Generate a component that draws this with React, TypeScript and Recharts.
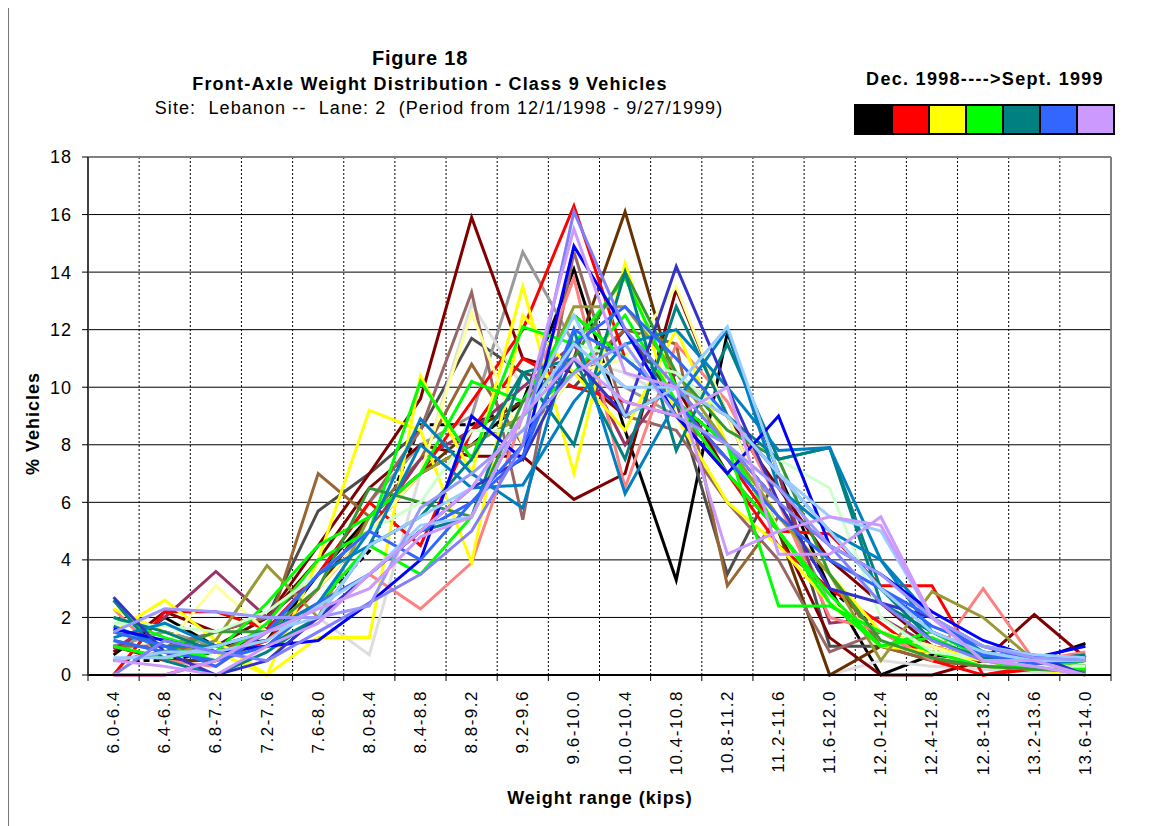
import React from "react";
import { LineChart, Line, XAxis, YAxis, CartesianGrid } from "recharts";

// ---------- data ----------
const CATEGORIES = [
  "6.0-6.4", "6.4-6.8", "6.8-7.2", "7.2-7.6", "7.6-8.0", "8.0-8.4", "8.4-8.8",
  "8.8-9.2", "9.2-9.6", "9.6-10.0", "10.0-10.4", "10.4-10.8", "10.8-11.2",
  "11.2-11.6", "11.6-12.0", "12.0-12.4", "12.4-12.8", "12.8-13.2", "13.2-13.6", "13.6-14.0",
];
const Y_TICKS = [0, 2, 4, 6, 8, 10, 12, 14, 16, 18];
const LEGEND_COLORS = ["#000000", "#FF0000", "#FFFF00", "#00FF00", "#008080", "#3366FF", "#CC99FF"];

const W01 = [0.7, 2.0, 1.0, 1.2, 3.5, 5.5, 7.0, 8.0, 9.5, 14.1, 8.5, 3.3, 11.9, 7.0, 3.0, 0.0, 0.7, 0.5, 0.5, 1.1];
const W02 = [0.5, 0.5, 0.8, 1.0, 2.5, 4.3, 8.7, 8.7, 9.5, 12.5, 11.0, 9.5, 8.0, 6.0, 3.0, 1.5, 0.8, 0.5, 0.3, 0.2];
const W03 = [1.0, 1.5, 1.0, 2.0, 5.7, 7.0, 8.5, 11.7, 10.5, 10.0, 12.0, 9.5, 3.5, 7.0, 1.0, 1.0, 0.8, 0.5, 0.3, 0.2];
const W04 = [1.0, 1.5, 1.0, 2.0, 3.5, 6.0, 8.0, 9.0, 14.7, 11.5, 10.0, 9.0, 7.5, 6.0, 2.5, 1.5, 0.5, 0.3, 0.3, 0.2];
const W05 = [1.5, 1.0, 0.8, 1.0, 2.0, 0.7, 7.0, 12.9, 10.0, 11.0, 10.5, 9.5, 7.5, 5.0, 0.0, 0.5, 0.3, 0.2, 0.1, 0.0];
const W06 = [0.8, 2.2, 1.5, 2.0, 4.5, 7.0, 9.6, 15.9, 11.0, 10.5, 9.0, 10.0, 7.0, 5.0, 1.3, 0.0, 0.0, 0.5, 2.1, 0.6];
const W07 = [0.5, 0.8, 1.0, 2.0, 4.0, 6.5, 8.0, 7.6, 7.6, 6.1, 7.0, 13.4, 9.0, 6.5, 4.0, 2.5, 1.0, 0.5, 0.3, 0.3];
const W08 = [1.0, 0.5, 0.5, 1.5, 3.0, 5.5, 7.0, 8.5, 9.5, 11.0, 16.1, 10.0, 9.0, 5.0, 0.0, 1.0, 0.5, 0.3, 0.2, 0.1];
const W09 = [1.0, 1.0, 0.8, 1.5, 7.0, 5.5, 7.5, 10.8, 8.0, 10.5, 12.0, 11.5, 3.1, 5.5, 3.5, 1.0, 0.5, 0.3, 0.2, 0.2];
const W10 = [1.5, 1.0, 1.5, 2.0, 3.5, 6.0, 8.5, 13.3, 5.4, 14.7, 9.0, 8.5, 6.0, 4.0, 0.8, 1.5, 1.0, 0.5, 0.3, 0.2];
const W11 = [0.9, 2.0, 3.6, 2.0, 3.5, 5.0, 7.5, 8.5, 10.0, 11.5, 8.0, 10.5, 9.0, 7.0, 1.8, 2.0, 1.0, 0.5, 0.2, 0.3];
const W12 = [0.0, 0.0, 0.5, 1.2, 3.0, 5.0, 7.0, 9.5, 12.0, 16.3, 11.0, 9.5, 7.5, 5.0, 4.9, 3.1, 3.1, 0.0, 0.3, 0.6];
const W13 = [0.0, 2.2, 2.2, 1.6, 3.5, 6.0, 4.5, 8.5, 11.0, 10.0, 9.5, 9.0, 7.0, 4.5, 3.0, 1.8, 0.5, 0.0, 0.2, 0.5];
const W14 = [2.3, 0.5, 0.3, 1.5, 2.5, 3.5, 2.3, 3.9, 9.0, 13.8, 6.5, 11.5, 9.5, 6.0, 2.0, 1.5, 0.5, 3.0, 0.5, 0.8];
const W15 = [1.5, 2.6, 1.2, 0.0, 1.3, 1.3, 10.4, 7.0, 13.5, 7.0, 14.3, 9.0, 6.0, 4.5, 2.5, 1.0, 0.8, 0.5, 0.3, 0.2];
const W16 = [2.3, 1.5, 0.8, 0.0, 4.0, 9.2, 8.5, 3.9, 12.5, 10.5, 8.5, 12.0, 8.0, 5.5, 3.5, 1.5, 1.0, 0.5, 0.2, 0.0];
const W17 = [1.6, 1.0, 3.1, 1.5, 3.0, 5.0, 7.0, 12.6, 8.0, 10.5, 11.0, 13.5, 9.0, 5.0, 2.5, 1.5, 1.0, 0.3, 0.2, 0.1];
const W18 = [1.0, 0.6, 1.2, 3.8, 2.0, 5.5, 7.0, 8.0, 9.0, 12.8, 12.8, 10.5, 8.0, 5.5, 3.5, 0.5, 2.9, 2.0, 0.5, 0.1];
const W19 = [1.5, 1.0, 0.5, 1.8, 4.0, 5.0, 10.2, 7.5, 12.1, 11.5, 13.8, 10.0, 8.0, 2.4, 2.4, 1.5, 0.8, 0.3, 0.2, 0.5];
const W20 = [1.0, 0.6, 0.8, 2.5, 4.5, 5.5, 7.0, 10.2, 9.5, 12.5, 11.0, 9.5, 7.0, 5.0, 2.8, 1.0, 1.3, 0.5, 0.2, 0.2];
const W21 = [2.0, 1.3, 0.8, 1.0, 2.5, 4.5, 3.5, 5.5, 9.0, 10.5, 12.5, 9.5, 8.0, 5.0, 2.5, 1.0, 1.5, 0.6, 0.3, 0.3];
const W22 = [1.2, 0.8, 1.5, 1.5, 3.0, 6.5, 6.0, 5.5, 9.5, 11.0, 14.0, 10.5, 8.5, 7.5, 3.5, 1.2, 0.6, 0.3, 0.2, 0.1];
const W23 = [1.8, 1.7, 1.5, 2.2, 3.5, 5.0, 6.0, 8.5, 8.5, 11.5, 11.0, 10.5, 9.0, 7.5, 6.5, 2.0, 0.8, 0.6, 0.3, 0.3];
const W24 = [2.0, 1.5, 0.8, 1.0, 2.0, 4.5, 5.5, 7.5, 10.5, 11.0, 7.5, 12.8, 9.0, 7.5, 7.9, 2.5, 1.5, 0.8, 0.5, 0.7];
const W25 = [2.6, 0.5, 0.0, 0.8, 2.0, 3.5, 5.0, 5.5, 10.5, 8.0, 14.0, 7.8, 11.5, 7.5, 7.9, 3.0, 1.2, 0.6, 0.5, 0.5];
const W26 = [1.7, 1.0, 1.0, 1.5, 2.5, 5.0, 8.9, 7.0, 5.8, 12.0, 6.3, 9.5, 12.0, 6.5, 5.0, 4.0, 2.0, 0.8, 0.5, 0.6];
const W27 = [1.3, 1.8, 1.0, 1.5, 3.5, 4.5, 8.0, 6.5, 6.6, 9.5, 11.5, 12.0, 10.0, 7.8, 7.9, 4.0, 1.5, 0.7, 0.4, 0.5];
const W28 = [1.6, 1.2, 0.8, 1.0, 1.2, 2.5, 4.0, 9.0, 7.5, 14.9, 12.0, 9.0, 7.0, 9.0, 4.5, 3.5, 2.2, 1.2, 0.6, 1.0];
const W29 = [2.7, 0.8, 0.0, 0.5, 2.0, 3.5, 5.0, 6.5, 7.5, 11.0, 9.0, 14.2, 10.0, 6.0, 3.0, 2.5, 2.0, 1.0, 0.7, 0.0];
const W30 = [1.2, 0.8, 0.5, 1.0, 2.5, 3.5, 5.0, 6.0, 8.0, 11.5, 12.8, 11.0, 9.0, 7.0, 5.0, 3.0, 1.7, 1.0, 0.5, 0.5];
const W31 = [1.5, 1.0, 0.3, 1.5, 3.5, 5.0, 4.0, 6.0, 7.6, 12.0, 11.0, 9.5, 7.5, 5.5, 4.0, 3.0, 2.0, 0.7, 0.4, 0.6];
const W32 = [0.6, 0.6, 1.0, 1.5, 2.0, 4.5, 5.5, 6.5, 9.0, 12.5, 9.0, 10.0, 12.1, 7.0, 5.5, 5.0, 2.0, 1.0, 0.7, 0.6];
const W33 = [0.5, 0.8, 0.8, 1.2, 2.4, 3.5, 5.2, 5.5, 9.0, 11.5, 10.0, 10.0, 9.0, 7.0, 5.0, 3.0, 1.5, 0.8, 0.5, 0.5];
const W34 = [0.0, 1.2, 0.8, 0.5, 1.5, 2.5, 3.5, 5.0, 8.0, 16.1, 12.0, 10.0, 8.0, 6.0, 4.5, 2.5, 1.2, 0.5, 0.3, 0.0];
const W35 = [1.5, 2.3, 2.2, 2.0, 2.0, 2.4, 5.8, 7.0, 8.5, 10.5, 11.5, 9.0, 8.0, 6.5, 4.5, 3.5, 2.0, 1.0, 0.6, 0.5];
const W36 = [0.5, 0.3, 0.0, 1.0, 1.8, 3.5, 5.0, 6.5, 9.0, 15.5, 10.5, 10.0, 4.2, 5.0, 5.5, 5.2, 2.0, 0.5, 0.5, 0.0];
const W37 = [0.0, 0.0, 0.5, 1.5, 2.3, 3.0, 4.8, 5.5, 9.0, 11.0, 9.5, 9.0, 10.0, 4.2, 4.2, 5.5, 2.0, 0.5, 0.3, 0.0];

const SERIES = [
  { key: "w01", values: W01, color: "#000000" },
  { key: "w02", values: W02, color: "#000000", dash: "6 4" },
  { key: "w03", values: W03, color: "#4D4D4D" },
  { key: "w04", values: W04, color: "#999999" },
  { key: "w05", values: W05, color: "#DDDDDD" },
  { key: "w06", values: W06, color: "#800000" },
  { key: "w07", values: W07, color: "#800000" },
  { key: "w08", values: W08, color: "#663300" },
  { key: "w09", values: W09, color: "#996633" },
  { key: "w10", values: W10, color: "#996666" },
  { key: "w11", values: W11, color: "#993366" },
  { key: "w12", values: W12, color: "#FF0000" },
  { key: "w13", values: W13, color: "#FF0000" },
  { key: "w14", values: W14, color: "#FF8080" },
  { key: "w15", values: W15, color: "#FFFF00" },
  { key: "w16", values: W16, color: "#FFFF00" },
  { key: "w17", values: W17, color: "#FFFF99" },
  { key: "w18", values: W18, color: "#999933" },
  { key: "w19", values: W19, color: "#00FF00" },
  { key: "w20", values: W20, color: "#00FF00" },
  { key: "w21", values: W21, color: "#00FF00" },
  { key: "w22", values: W22, color: "#339933" },
  { key: "w23", values: W23, color: "#CCFFCC" },
  { key: "w24", values: W24, color: "#008080" },
  { key: "w25", values: W25, color: "#008080" },
  { key: "w26", values: W26, color: "#0080C0" },
  { key: "w27", values: W27, color: "#0080C0" },
  { key: "w28", values: W28, color: "#0000FF" },
  { key: "w29", values: W29, color: "#3333CC" },
  { key: "w30", values: W30, color: "#3366FF" },
  { key: "w31", values: W31, color: "#3366FF" },
  { key: "w32", values: W32, color: "#99CCFF" },
  { key: "w33", values: W33, color: "#99CCFF" },
  { key: "w34", values: W34, color: "#8080FF" },
  { key: "w35", values: W35, color: "#9999FF" },
  { key: "w36", values: W36, color: "#CC99FF" },
  { key: "w37", values: W37, color: "#CC99FF" },
];

const DATA = CATEGORIES.map((cat, i) => {
  const row: Record<string, any> = { cat };
  SERIES.forEach((s) => { row[s.key] = s.values[i]; });
  return row;
});

// ---------- layout ----------
const FONT = "'Liberation Sans', Arial, sans-serif";
const CHART_W = 1150;
const CHART_H = 818;
const MARGIN = { top: 149, right: 47, bottom: 0, left: 0 };
const Y_AXIS_W = 80;
const X_AXIS_H = 151;
const PLOT_W = CHART_W - MARGIN.left - MARGIN.right - Y_AXIS_W;
const BAND = PLOT_W / CATEGORIES.length;

const XTick = (props: any) => {
  const { x, y, payload, index } = props;
  const axisY = y - 6;
  const ly = axisY + 15;
  return (
    <g>
      <line x1={x - BAND / 2} x2={x - BAND / 2} y1={axisY} y2={axisY + 6} stroke="#000" strokeWidth={1} />
      {index === CATEGORIES.length - 1 && (
        <line x1={x + BAND / 2} x2={x + BAND / 2} y1={axisY} y2={axisY + 6} stroke="#000" strokeWidth={1} />
      )}
      <text
        x={x}
        y={ly}
        transform={`rotate(-90, ${x}, ${ly})`}
        textAnchor="end"
        dominantBaseline="central"
        fontFamily={FONT}
        fontSize={17}
        letterSpacing={1.5}
        fill="#000"
      >
        {payload.value}
      </text>
    </g>
  );
};

export default function App() {
  return (
    <div style={{ position: "relative", width: CHART_W, height: CHART_H, fontFamily: FONT, background: "#fff" }}>
      <div style={{ position: "absolute", left: 0, top: -3, width: CHART_W + 10, height: CHART_H + 10, borderLeft: "1px solid #777", borderTop: "1px solid #777" }} />
      {/* titles */}
      <div style={{ position: "absolute", left: 112, width: 600, top: 39, textAlign: "center", fontWeight: "bold", fontSize: 20, letterSpacing: 0.8 }}>Figure 18</div>
      <div style={{ position: "absolute", left: 62, width: 720, top: 66, textAlign: "center", fontWeight: "bold", fontSize: 18, letterSpacing: 1.2 }}>Front-Axle Weight Distribution - Class 9 Vehicles</div>
      <div style={{ position: "absolute", left: 71, width: 720, top: 90, textAlign: "center", fontSize: 18, letterSpacing: 1.1, whiteSpace: "pre" }}>{"Site:  Lebanon --  Lane: 2  (Period from 12/1/1998 - 9/27/1999)"}</div>
      {/* month legend */}
      <div style={{ position: "absolute", left: 837, width: 280, top: 61, textAlign: "center", fontWeight: "bold", fontSize: 18, letterSpacing: 1.3 }}>Dec. 1998----&gt;Sept. 1999</div>
      <div style={{ position: "absolute", left: 846, top: 96, display: "flex", border: "2px solid #000" }}>
        {LEGEND_COLORS.map((c, i) => (
          <div key={i} style={{ width: 35, height: 27, background: c, borderLeft: i === 0 ? "none" : "2px solid #000" }} />
        ))}
      </div>
      {/* axis titles */}
      <div style={{ position: "absolute", left: 25 - 100, top: 417 - 12, width: 200, textAlign: "center", transform: "rotate(-90deg)", fontWeight: "bold", fontSize: 18, letterSpacing: 1.0 }}>% Vehicles</div>
      <div style={{ position: "absolute", left: 392, width: 400, top: 780, textAlign: "center", fontWeight: "bold", fontSize: 18, letterSpacing: 1.0 }}>Weight range (kips)</div>

      <div style={{ position: "absolute", left: 0, top: 0 }}>
        <LineChart width={CHART_W} height={CHART_H} data={DATA} margin={MARGIN}>
          <CartesianGrid
            horizontal={true}
            vertical={false}
            stroke="#000"
            strokeWidth={1}
          />
          <CartesianGrid
            horizontal={false}
            vertical={true}
            stroke="#000"
            strokeWidth={1}
            strokeDasharray="2 2"
            verticalCoordinatesGenerator={({ offset }: any) =>
              CATEGORIES.slice(1).map((_, k) => offset.left + (k + 1) * (offset.width / CATEGORIES.length))
            }
          />
          <CartesianGrid
            horizontal={true}
            vertical={true}
            stroke="#808080"
            strokeWidth={2}
            horizontalCoordinatesGenerator={({ offset }: any) => [offset.top]}
            verticalCoordinatesGenerator={({ offset }: any) => [offset.left + offset.width]}
          />
          <XAxis
            dataKey="cat"
            height={X_AXIS_H}
            interval={0}
            padding={{ left: BAND / 2, right: BAND / 2 }}
            tickLine={false}
            tickSize={6}
            tickMargin={0}
            axisLine={{ stroke: "#000", strokeWidth: 2 }}
            tick={<XTick />}
          />
          <YAxis
            width={Y_AXIS_W}
            domain={[0, 18]}
            ticks={Y_TICKS}
            interval={0}
            tickSize={6}
            tickMargin={10}
            axisLine={{ stroke: "#404040", strokeWidth: 2 }}
            tickLine={{ stroke: "#000", strokeWidth: 1 }}
            tick={{ fill: "#000", fontSize: 18, fontFamily: FONT, letterSpacing: 1 }}
          />
          {SERIES.map((s) => (
            <Line
              key={s.key}
              type="linear"
              dataKey={s.key}
              stroke={s.color}
              strokeWidth={3}
              strokeDasharray={s.dash}
              dot={false}
              activeDot={false}
              isAnimationActive={false}
            />
          ))}
        </LineChart>
      </div>
    </div>
  );
}
